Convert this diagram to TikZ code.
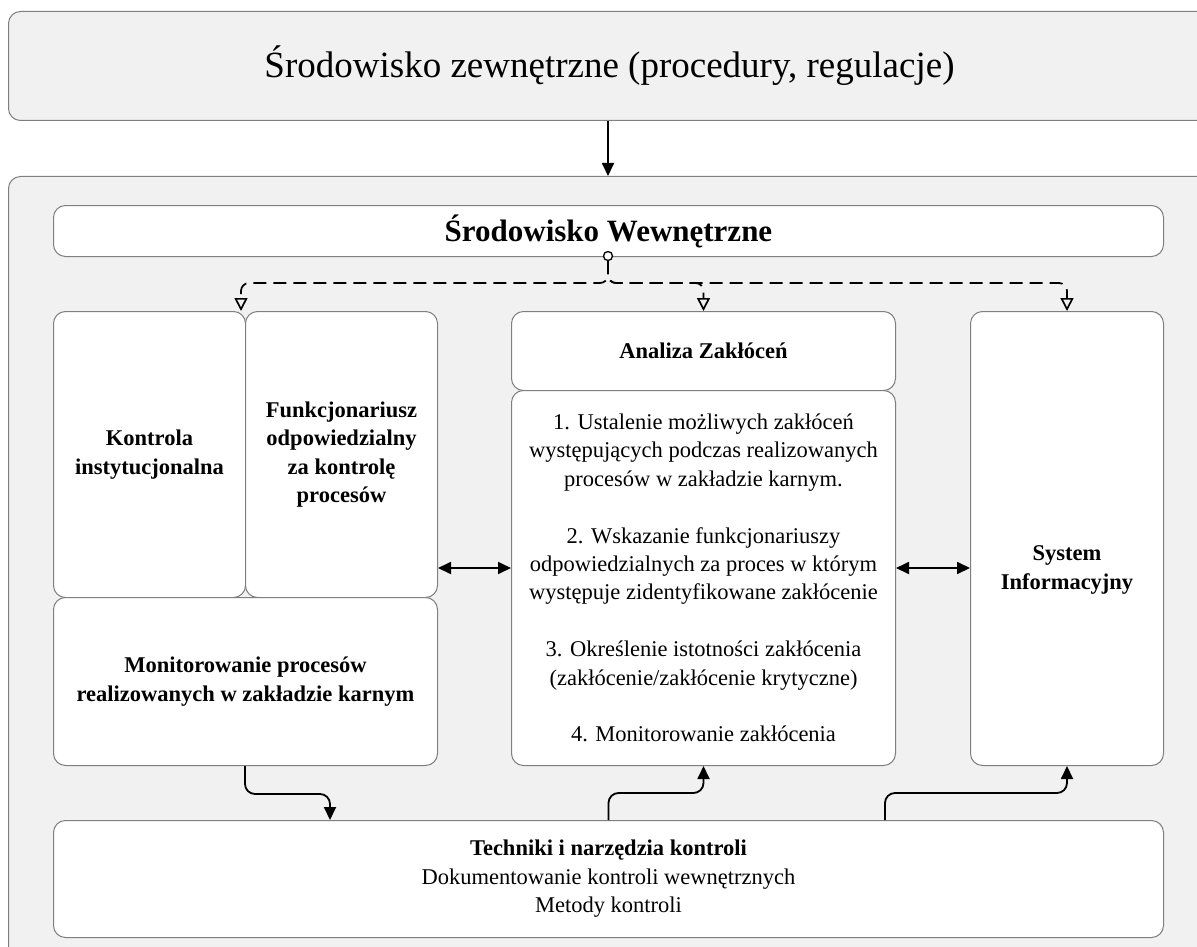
\documentclass[tikz,border=0pt]{standalone}
\usepackage{fontspec}
\setmainfont{Liberation Serif}
\usepackage{tikz}
\usetikzlibrary{positioning, arrows.meta, calc}
\definecolor{tlogray}{HTML}{F1F1F1}
\definecolor{ramka}{HTML}{7F7F7F}

\newcommand{\tytul}{\fontsize{37}{44}\selectfont}
\newcommand{\naglowek}{\fontsize{31}{37}\selectfont\bfseries}
\newcommand{\sredni}{\fontsize{22.5}{28.4}\selectfont}

\tikzset{
  tlo/.style={draw=ramka, fill=tlogray, line width=1pt, rounded corners=12pt,
              anchor=north west, inner sep=0pt, align=center},
  pole/.style={draw=ramka, fill=white, line width=1pt, rounded corners=12pt,
               anchor=north west, inner sep=0pt, align=center, font=\sredni},
  gruby/.style={font=\sredni\bfseries},
  strz/.style={-{Triangle[length=13pt,width=12pt]}, line width=1.8pt, rounded corners=10pt},
  dwie/.style={{Triangle[length=13pt,width=12pt]}-{Triangle[length=13pt,width=12pt]}, line width=1.8pt},
  kreska/.style={-{Triangle[open,length=13pt,width=13pt]}, line width=1.7pt,
                 dash pattern=on 13pt off 7pt, rounded corners=8pt}
}

\begin{document}
\begin{tikzpicture}[x=1pt, y=-1pt]
  \useasboundingbox (0,0) rectangle (1197,947);

  % otoczenie
  \node[tlo, minimum width=1202pt, minimum height=109pt, font=\tytul] (zew) at (8,11)
    {Środowisko zewnętrzne (procedury, regulacje)};
  \node[tlo, minimum width=1202pt, minimum height=790pt] (wnetrze) at (8,176) {};

  \node[pole, minimum width=1110pt, minimum height=51pt, font=\naglowek] (wew) at (53,205)
    {Środowisko Wewnętrzne};

  % lewa grupa
  \node[pole, gruby, minimum width=192pt, minimum height=286pt] (kon) at (53,311)
    {Kontrola\\instytucjonalna};
  \node[pole, gruby, minimum width=192pt, minimum height=286pt] (fun) at (245,311)
    {Funkcjonariusz\\odpowiedzialny\\za kontrolę\\procesów};
  \node[pole, gruby, minimum width=384pt, minimum height=168pt] (mon) at (53,597)
    {Monitorowanie procesów\\realizowanych w zakładzie karnym};

  % analiza
  \node[pole, gruby, minimum width=384pt, minimum height=79pt] (anh) at (511,311)
    {Analiza Zakłóceń};
  \node[pole, minimum width=384pt, minimum height=375pt] (anb) at (511,390)
    {1. Ustalenie możliwych zakłóceń\\występujących podczas realizowanych\\procesów w zakładzie karnym.\\[28.4pt]
     2. Wskazanie funkcjonariuszy\\odpowiedzialnych za proces w którym\\występuje zidentyfikowane zakłócenie\\[28.4pt]
     3. Określenie istotności zakłócenia\\(zakłócenie/zakłócenie krytyczne)\\[28.4pt]
     4. Monitorowanie zakłócenia};

  % system
  \node[pole, minimum width=193pt, minimum height=454pt] (sys) at (970,311) {};
  \node[gruby, align=center] (systekst) at (sys.center |- 0,570) {System\\Informacyjny};

  \node[pole, minimum width=1110pt, minimum height=117pt] (tech) at (53,820)
    {\textbf{Techniki i narzędzia kontroli}\\Dokumentowanie kontroli wewnętrznych\\Metody kontroli};

  % polaczenia
  \node[circle, draw, fill=white, line width=1.3pt, inner sep=0pt, minimum size=9pt] (tap) at (608,256) {};
  \coordinate (rozg) at (0,283);
  \coordinate (poziom) at (0,568);

  \draw[strz] (zew.south -| tap) -- (wnetrze.north -| tap);

  \draw[kreska] (tap.south) |- ([xshift=-5pt]kon.north east |- rozg) -- ([xshift=-5pt]kon.north east);
  \draw[kreska] (tap.south) |- (anh.north |- rozg) -- (anh.north);
  \draw[kreska] (tap.south) |- (sys.north |- rozg) -- (sys.north);

  \draw[dwie] (fun.east |- poziom) -- (anb.west |- poziom);
  \draw[dwie] (anb.east |- poziom) -- (sys.west |- poziom);

  \draw[strz] (mon.south -| fun.west) -- ++(0,28) -| ($(tech.north west)+(277,0)$);
  \draw[strz] (tech.north) -- ++(0,-27) -| (anb.south);
  \draw[strz] ($(tech.north west)+(832,0)$) -- ++(0,-27) -| (sys.south);
\end{tikzpicture}
\end{document}
